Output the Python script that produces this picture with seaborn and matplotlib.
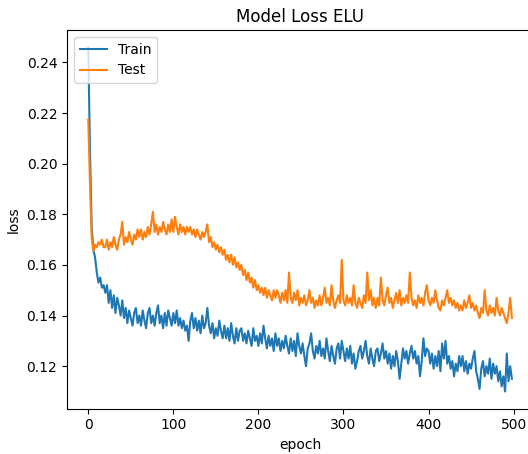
import numpy as np
import pandas as pd
import matplotlib
matplotlib.use('Agg')
import matplotlib.pyplot as plt
import seaborn as sns

epochs = list(range(0, 500, 2))

train_loss = [
    0.246, 0.205, 0.175, 0.166, 0.163, 0.157, 0.153, 0.155, 0.151, 0.152,
    0.149, 0.152, 0.145, 0.150, 0.143, 0.148, 0.141, 0.147, 0.144, 0.140,
    0.146, 0.139, 0.143, 0.137, 0.142, 0.139, 0.136, 0.141, 0.143, 0.137,
    0.140, 0.136, 0.142, 0.138, 0.135, 0.141, 0.143, 0.137, 0.140, 0.136,
    0.141, 0.144, 0.137, 0.140, 0.135, 0.141, 0.136, 0.142, 0.139, 0.136,
    0.141, 0.137, 0.142, 0.136, 0.139, 0.135, 0.138, 0.134, 0.136, 0.130,
    0.138, 0.141, 0.135, 0.139, 0.134, 0.138, 0.133, 0.140, 0.135, 0.137,
    0.143, 0.136, 0.133, 0.137, 0.131, 0.135, 0.132, 0.138, 0.134, 0.131,
    0.136, 0.131, 0.135, 0.130, 0.137, 0.132, 0.129, 0.135, 0.130, 0.134,
    0.135, 0.130, 0.133, 0.129, 0.134, 0.131, 0.128, 0.135, 0.130, 0.132,
    0.128, 0.133, 0.129, 0.136, 0.131, 0.127, 0.132, 0.128, 0.131, 0.126,
    0.133, 0.128, 0.131, 0.126, 0.130, 0.127, 0.132, 0.128, 0.125, 0.131,
    0.126, 0.130, 0.124, 0.133, 0.128, 0.125, 0.129, 0.124, 0.120, 0.127,
    0.129, 0.133, 0.126, 0.123, 0.128, 0.125, 0.130, 0.124, 0.127, 0.123,
    0.131, 0.126, 0.122, 0.128, 0.124, 0.121, 0.127, 0.129, 0.123, 0.130,
    0.126, 0.122, 0.127, 0.123, 0.128, 0.121, 0.125, 0.119, 0.122, 0.126,
    0.128, 0.123, 0.126, 0.130, 0.124, 0.121, 0.127, 0.123, 0.120, 0.126,
    0.127, 0.122, 0.125, 0.129, 0.123, 0.126, 0.121, 0.125, 0.119, 0.124,
    0.120, 0.126, 0.122, 0.115, 0.121, 0.127, 0.123, 0.126, 0.121, 0.125,
    0.128, 0.123, 0.126, 0.121, 0.124, 0.116, 0.122, 0.131, 0.124, 0.127,
    0.126, 0.121, 0.125, 0.119, 0.124, 0.120, 0.126, 0.118, 0.129, 0.123,
    0.130, 0.121, 0.124, 0.119, 0.122, 0.116, 0.121, 0.118, 0.124, 0.120,
    0.124, 0.118, 0.122, 0.117, 0.121, 0.119, 0.123, 0.126, 0.118, 0.115,
    0.111, 0.119, 0.122, 0.116, 0.120, 0.117, 0.123, 0.115, 0.121, 0.117,
    0.120, 0.114, 0.118, 0.112, 0.116, 0.110, 0.125, 0.114, 0.120, 0.115,
]

test_loss = [
    0.2175, 0.192, 0.171, 0.1655, 0.168, 0.167, 0.169, 0.168, 0.170, 0.167,
    0.167, 0.170, 0.166, 0.169, 0.167, 0.171, 0.168, 0.166, 0.170, 0.172,
    0.177, 0.168, 0.171, 0.169, 0.173, 0.170, 0.168, 0.172, 0.170, 0.174,
    0.171, 0.174, 0.170, 0.173, 0.171, 0.175, 0.172, 0.176, 0.181, 0.173,
    0.176, 0.172, 0.175, 0.173, 0.177, 0.174, 0.172, 0.176, 0.173, 0.178,
    0.173, 0.179, 0.175, 0.172, 0.176, 0.173, 0.175, 0.172, 0.175, 0.173,
    0.175, 0.172, 0.174, 0.171, 0.174, 0.172, 0.170, 0.173, 0.171, 0.173,
    0.176, 0.169, 0.171, 0.167, 0.169, 0.166, 0.168, 0.165, 0.167, 0.164,
    0.166, 0.162, 0.164, 0.161, 0.164, 0.160, 0.163, 0.159, 0.161, 0.158,
    0.160, 0.156, 0.158, 0.154, 0.157, 0.153, 0.155, 0.151, 0.154, 0.150,
    0.152, 0.149, 0.151, 0.148, 0.151, 0.147, 0.150, 0.148, 0.146, 0.150,
    0.147, 0.150, 0.148, 0.145, 0.149, 0.146, 0.150, 0.145, 0.157, 0.147,
    0.145, 0.149, 0.146, 0.150, 0.144, 0.147, 0.145, 0.148, 0.144, 0.146,
    0.150, 0.145, 0.147, 0.143, 0.146, 0.144, 0.148, 0.144, 0.147, 0.151,
    0.145, 0.147, 0.144, 0.152, 0.146, 0.143, 0.146, 0.148, 0.145, 0.162,
    0.146, 0.144, 0.148, 0.145, 0.147, 0.144, 0.152, 0.145, 0.143, 0.147,
    0.145, 0.143, 0.148, 0.145, 0.157, 0.146, 0.150, 0.144, 0.147, 0.143,
    0.147, 0.144, 0.155, 0.146, 0.144, 0.148, 0.151, 0.145, 0.147, 0.143,
    0.146, 0.149, 0.145, 0.150, 0.144, 0.147, 0.145, 0.148, 0.145, 0.157,
    0.147, 0.144, 0.146, 0.143, 0.148, 0.145, 0.147, 0.144, 0.149, 0.152,
    0.146, 0.144, 0.147, 0.145, 0.150, 0.146, 0.143, 0.142, 0.146, 0.144,
    0.147, 0.150, 0.145, 0.147, 0.144, 0.146, 0.143, 0.145, 0.142, 0.144,
    0.142, 0.146, 0.143, 0.145, 0.148, 0.143, 0.145, 0.142, 0.144, 0.141,
    0.139, 0.143, 0.141, 0.150, 0.142, 0.140, 0.144, 0.141, 0.143, 0.140,
    0.147, 0.142, 0.140, 0.143, 0.141, 0.139, 0.137, 0.141, 0.147, 0.139,
]

fig = plt.figure(figsize=(5.28, 4.54), dpi=100)
# axes run past the right edge, as in the cropped reference
ax = fig.add_axes([67 / 528, 45.3 / 454, 467 / 528, 378.7 / 454])

sns.lineplot(x=epochs, y=train_loss, ax=ax, label='Train', color='#1f77b4', linewidth=1.5)
sns.lineplot(x=epochs, y=test_loss, ax=ax, label='Test', color='#ff7f0e', linewidth=1.5)

ax.set_xlim(-25, 524)
ax.set_title('Model Loss ELU')
ax.set_xlabel('epoch')
ax.set_ylabel('loss')
ax.legend(loc='upper left')

fig.savefig('out.png', dpi=100)
